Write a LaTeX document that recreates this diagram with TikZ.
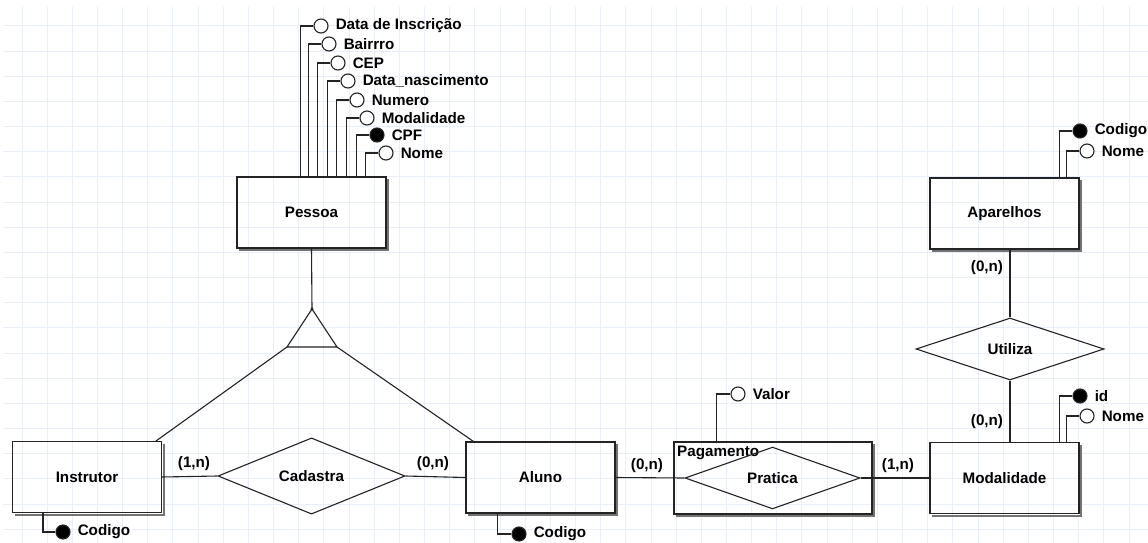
\documentclass[tikz,border=0pt]{standalone}
\usepackage{fontspec}
\setmainfont{Liberation Sans}
\usetikzlibrary{shapes.geometric,calc}
\definecolor{gridc}{RGB}{232,239,247}
\definecolor{linec}{RGB}{35,35,35}
\newcommand\eshadow[1]{\draw[line width=2pt, draw=black!55] ([xshift=1.5pt,yshift=-3pt]#1.north east) -- ([xshift=1.5pt,yshift=-1.5pt]#1.south east) -- ([xshift=3pt,yshift=-1.5pt]#1.south west);}
\begin{document}
\begin{tikzpicture}[x=1pt,y=-1pt,
  lbl/.style={font=\fontsize{15.2}{17}\selectfont\bfseries, inner sep=0pt},
  entity/.style={draw=linec, line width=1.1pt, minimum width=149pt, minimum height=71pt, inner sep=0pt, lbl},
  rel/.style={draw=linec, line width=1.1pt, diamond, inner sep=0pt, lbl},
  attr/.style={circle, draw=linec, line width=1.1pt, fill=white, minimum size=14pt, inner sep=0pt, label={[lbl, xshift=7pt]right:#1}},
  key/.style={attr={#1}, fill=black},
  conn/.style={draw=linec, line width=1.1pt},
  card/.style={lbl},
  gridline/.style={draw=gridc, line width=1pt}
]
\useasboundingbox (0,0) rectangle (1148,543);
\fill[white] (0,0) rectangle (1148,543);
\foreach \i in {0,...,44} \draw[gridline] ({22+25.16*\i},7) -- ({22+25.16*\i},543);
\foreach \j in {0,...,20} \draw[gridline] (3,{26+25.16*\j}) -- (1148,{26+25.16*\j});

% entities
\node[entity] (pessoa) at (311.5,212.5) {Pessoa};
\node[entity] (instr) at (87,477) {Instrutor};
\node[entity] (aluno) at (540.5,477.5) {Aluno};
\node[entity] (modal) at (1004.5,478) {Modalidade};
\node[entity] (apar) at (1004.5,213.5) {Aparelhos};
\node[entity, minimum width=198pt, minimum height=72pt] (pag) at (773,478) {};
\node[lbl, anchor=west] (pagl) at (677,453) {Pagamento};
\eshadow{pessoa}\eshadow{instr}\eshadow{aluno}\eshadow{modal}\eshadow{apar}\eshadow{pag}

% relationships
\node[rel, minimum width=187pt, minimum height=62pt] (cad) at (311.5,476) {Cadastra};
\node[rel, minimum width=175pt, minimum height=51pt] (prat) at (772.5,478) {Pratica};
\node[rel, minimum width=188pt, minimum height=62pt] (util) at (1010,349) {Utiliza};

% specialization triangle
\coordinate (tA) at (312,309);
\coordinate (tL) at (287,347);
\coordinate (tR) at (337,347);
\draw[conn] (tA) -- (tL) -- (tR) -- cycle;
\fill[linec] (tA) circle (1.6);
\draw[conn] (pessoa.south) -- (tA);
\draw[conn] (tL) -- ($(instr.north east)+(-6,0)$);
\draw[conn] (tR) -- ($(aluno.north west)+(8,0)$);

% connectors
\draw[conn] (instr.east) -- (cad.west);
\draw[conn] (cad.east) -- (aluno.west);
\draw[conn] (aluno.east) -- (prat.west);
\draw[conn] (prat.east) -- (modal.west);
\draw[conn] (util.north) -- (util.north |- apar.south);
\draw[conn] (util.south) -- (util.south |- modal.north);

% cardinalities
\node[card] (c1) at (194,464) {(1,n)};
\node[card] (c2) at (433,464) {(0,n)};
\node[card] (c3) at (647,466) {(0,n)};
\node[card] (c4) at (898,466) {(1,n)};
\node[card] (c5) at (987,268) {(0,n)};
\node[card] (c6) at (987,422) {(0,n)};

% Pessoa attributes
\node[attr=Data de Inscrição] (p1) at (321,26) {};
\node[attr=Bairrro] (p2) at (329,44) {};
\node[attr=CEP] (p3) at (338,63) {};
\node[attr=Data\_nascimento] (p4) at (348,81) {};
\node[attr=Numero] (p5) at (357,100) {};
\node[attr=Modalidade] (p6) at (367,118) {};
\node[key=CPF] (p7) at (377,135) {};
\node[attr=Nome] (p8) at (386,153) {};
\draw[conn] (p1.west) -| ($(pessoa.north west)+(64,0)$);
\draw[conn] (p2.west) -| ($(pessoa.north west)+(72,0)$);
\draw[conn] (p3.west) -| ($(pessoa.north west)+(81,0)$);
\draw[conn] (p4.west) -| ($(pessoa.north west)+(91,0)$);
\draw[conn] (p5.west) -| ($(pessoa.north west)+(100,0)$);
\draw[conn] (p6.west) -| ($(pessoa.north west)+(110,0)$);
\draw[conn] (p7.west) -| ($(pessoa.north west)+(120,0)$);
\draw[conn] (p8.west) -| ($(pessoa.north west)+(129,0)$);

% Aparelhos attributes
\node[key=Codigo] (a1) at (1080,131) {};
\node[attr=Nome] (a2) at (1087,151) {};
\draw[conn] (a1.west) -| ($(apar.north west)+(130,0)$);
\draw[conn] (a2.west) -| ($(apar.north west)+(137,0)$);

% Modalidade attributes
\node[key=id] (m1) at (1080,396) {};
\node[attr=Nome] (m2) at (1087,416) {};
\draw[conn] (m1.west) -| ($(modal.north west)+(130,0)$);
\draw[conn] (m2.west) -| ($(modal.north west)+(137,0)$);

% Pagamento attribute
\node[attr=Valor] (v1) at (738,394) {};
\draw[conn] (v1.west) -| ($(pag.north west)+(43,0)$);

% Instrutor / Aluno keys
\node[key=Codigo] (ic) at (63,532) {};
\draw[conn] (ic.west) -| ($(instr.south west)+(31,0)$);
\node[key=Codigo] (ac) at (519,534) {};
\draw[conn] (ac.west) -| ($(aluno.south west)+(32,0)$);
\end{tikzpicture}
\end{document}
